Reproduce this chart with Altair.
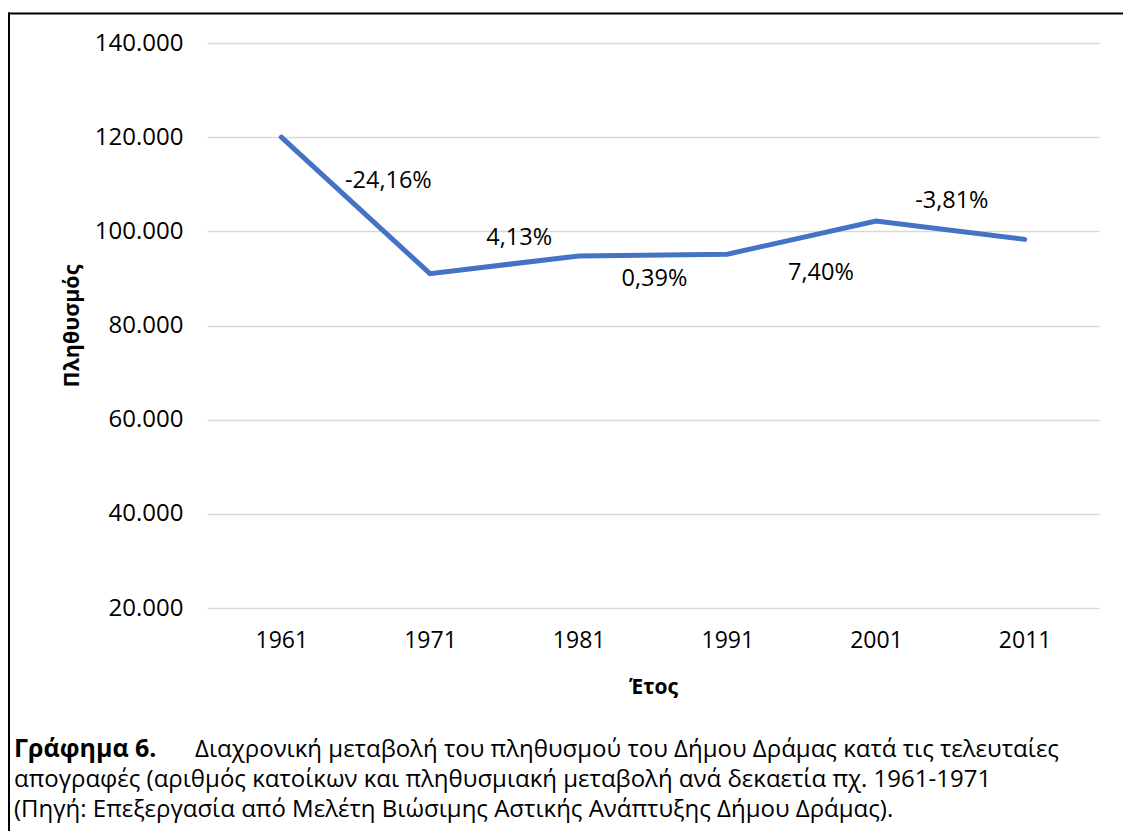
import altair as alt
import pandas as pd

# ---- data ----
years = [1961, 1971, 1981, 1991, 2001, 2011]
population = [120000, 91010, 94770, 95140, 102180, 98290]

change_labels = ["-24,16%", "4,13%", "0,39%", "7,40%", "-3,81%"]
label_year = [1968.2, 1977.0, 1986.1, 1997.3, 2006.1]
label_value = [110750, 98640, 89940, 91210, 106500]

y_ticks = [20000, 40000, 60000, 80000, 100000, 120000, 140000]

caption_bold = "Γράφημα 6."
caption_lines = [
    "Διαχρονική μεταβολή του πληθυσμού του Δήμου Δράμας κατά τις τελευταίες",
    "απογραφές (αριθμός κατοίκων και πληθυσμιακή μεταβολή ανά δεκαετία πχ. 1961-1971",
    "(Πηγή: Επεξεργασία από Μελέτη Βιώσιμης Αστικής Ανάπτυξης Δήμου Δράμας).",
]

FONT = "Open Sans"
W, H = 892, 565

line_df = pd.DataFrame({"year": years, "pop": population})
lab_df = pd.DataFrame({"year": label_year, "pop": label_value, "label": change_labels})

x_scale = alt.Scale(domain=[1956, 2016], nice=False, zero=False)
y_scale = alt.Scale(domain=[20000, 140000], nice=False, zero=False)

x_axis = alt.Axis(
    values=years, format="d", grid=False, ticks=False, domain=False,
    labelFont=FONT, labelFontSize=23, labelColor="#000000", labelPadding=21,
    title="Έτος", titleFont=FONT, titleFontSize=21, titleFontWeight="bold",
    titleColor="#000000", titleX=W / 2, titleY=79, titleBaseline="middle",
)
y_axis = alt.Axis(
    values=y_ticks, grid=True, gridColor="#D9D9D9", gridWidth=1.5,
    ticks=False, domain=False,
    labelExpr="replace(format(datum.value, ','), ',', '.')",
    labelFont=FONT, labelFontSize=24, labelColor="#000000", labelPadding=24,
    title="Πληθυσμός", titleFont=FONT, titleFontSize=21.5, titleFontWeight="bold",
    titleColor="#000000", titleAngle=-90, titleX=-135, titleY=H / 2,
    titleAlign="center", titleBaseline="middle",
)

line = alt.Chart(line_df).mark_line(color="#4472C4", strokeWidth=5, strokeCap="round").encode(
    x=alt.X("year:Q", scale=x_scale, axis=x_axis),
    y=alt.Y("pop:Q", scale=y_scale, axis=y_axis),
)

labels = alt.Chart(lab_df).mark_text(
    font=FONT, fontSize=23.5, color="#000000", align="center", baseline="middle"
).encode(
    x=alt.X("year:Q", scale=x_scale),
    y=alt.Y("pop:Q", scale=y_scale),
    text="label:N",
)

CAP_SIZE = 24
cap_bold = alt.Chart(pd.DataFrame({"t": [caption_bold]})).mark_text(
    font=FONT, fontSize=CAP_SIZE + 1, fontWeight="bold", color="#000000",
    align="left", baseline="alphabetic",
).encode(text="t:N", x=alt.value(-193), y=alt.value(713.5))

cap_x = [-12, -193, -193]
cap_y = [713.5, 743.5, 773.5]
cap_layers = []
for i, t in enumerate(caption_lines):
    cap_layers.append(
        alt.Chart(pd.DataFrame({"t": [t]})).mark_text(
            font=FONT, fontSize=CAP_SIZE, color="#000000", align="left", baseline="alphabetic",
        ).encode(text="t:N", x=alt.value(cap_x[i]), y=alt.value(cap_y[i]))
    )

frame_top = alt.Chart(pd.DataFrame({"a": [0]})).mark_rule(color="#000000", strokeWidth=2).encode(
    x=alt.value(-199), x2=alt.value(916), y=alt.value(-29.5)
)
frame_left = alt.Chart(pd.DataFrame({"a": [0]})).mark_rule(color="#000000", strokeWidth=2).encode(
    x=alt.value(-198), y=alt.value(-30.5), y2=alt.value(790)
)

chart = alt.layer(
    line, labels, cap_bold, *cap_layers, frame_top, frame_left
).properties(
    width=W, height=H,
    padding={"left": 199, "top": 35, "right": 24, "bottom": 223},
    autosize=alt.AutoSizeParams(type="none"),
    background="#FFFFFF",
).configure_view(stroke=None)

chart.save("out.html", embed_options={"renderer": "svg", "actions": False})
